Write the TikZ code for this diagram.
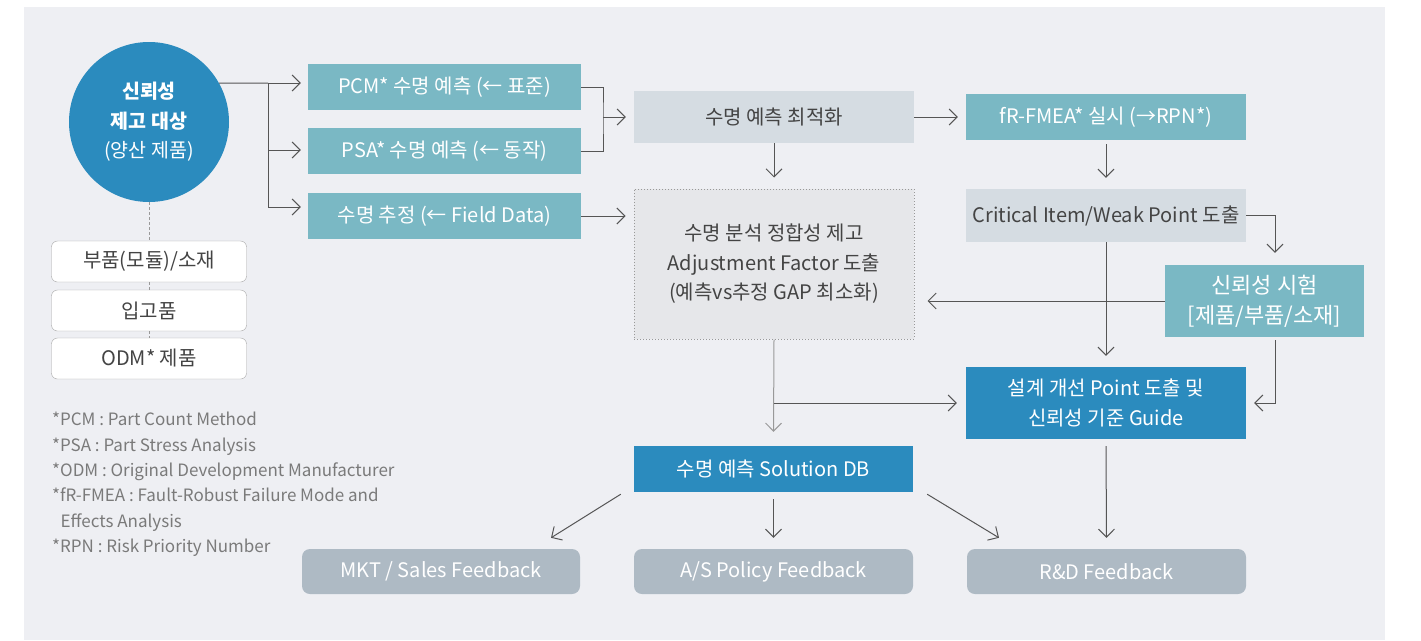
\documentclass[tikz,border=0pt]{standalone}
\usepackage{fontspec}
\setmainfont{Noto Sans CJK KR}
\usetikzlibrary{arrows.meta}
\definecolor{panelc}{HTML}{EEEFF3}
\definecolor{deepc}{HTML}{2B8BBE}
\definecolor{tealc}{HTML}{7AB8C4}
\definecolor{palec}{HTML}{D5DCE2}
\definecolor{dotc}{HTML}{E6E7EA}
\definecolor{fbc}{HTML}{AEBAC4}
\definecolor{linec}{HTML}{555555}
\definecolor{textc}{HTML}{444444}
\definecolor{notec}{HTML}{7A7A7A}

\begin{document}
\begin{tikzpicture}[x=1pt,y=-1pt,
    box/.style={rectangle,inner sep=0pt,align=center,font=\fontsize{20}{29.5}\selectfont},
    tealbox/.style={box,fill=tealc,text=white},
    palebox/.style={box,fill=palec,text=textc},
    deepbox/.style={box,fill=deepc,text=white,font=\fontsize{20}{30}\selectfont},
    fbbox/.style={box,fill=fbc,text=white,rounded corners=8pt,font=\fontsize{20}{24}\selectfont},
    whitebox/.style={box,fill=white,draw=gray!70,rounded corners=6pt,text=textc,
        font=\fontsize{20}{24}\selectfont,minimum width=195pt,minimum height=41pt},
    arr/.style={draw=linec,line width=1pt,-{Straight Barb[length=8pt,width=16pt]}},
    link/.style={draw=linec,line width=1pt},
    dots/.style={draw=gray!80,densely dashed,line width=0.8pt}]
\useasboundingbox (0,0) rectangle (1421,640);
\fill[panelc] (24,7) rectangle (1385,640);

\node [circle,fill=deepc,text=white,minimum size=160pt,inner sep=0pt,align=center,
    font=\fontsize{19.5}{29.5}\selectfont] (target) at (149,122)
    {\textbf{신뢰성}\\\textbf{제고 대상}\\(양산 제품)};
\node [whitebox] (parts) at (149,261.5) {부품(모듈)/소재};
\node [whitebox] (incoming) at (149,310.5) {입고품};
\node [whitebox] (odm) at (149,358.5) {ODM* 제품};
\draw [dots] (target.south) -- (parts.north);
\draw [dots] (parts.south) -- (incoming.north);
\draw [dots] (incoming.south) -- (odm.north);

\node [tealbox,minimum width=273pt,minimum height=46pt] (pcm) at (444.5,87) {PCM* 수명 예측 (← 표준)};
\node [tealbox,minimum width=273pt,minimum height=46pt] (psa) at (444.5,151) {PSA* 수명 예측 (← 동작)};
\node [tealbox,minimum width=273pt,minimum height=46pt] (field) at (444.5,216) {수명 추정 (← Field Data)};

\node [palebox,minimum width=280pt,minimum height=52pt] (opt) at (774,117) {수명 예측 최적화};
\node [box,fill=dotc,text=textc,draw=gray!80,dotted,line width=1pt,
    minimum width=280pt,minimum height=150pt] (adjust) at (774,264)
    {수명 분석 정합성 제고\\Adjustment Factor 도출\\(예측vs추정 GAP 최소화)};

\node [tealbox,minimum width=280pt,minimum height=46pt] (fmea) at (1106,117) {fR-FMEA* 실시 (→RPN*)};
\node [palebox,minimum width=280pt,minimum height=53pt] (critical) at (1106,215.5) {Critical Item/Weak Point 도출};
\node [tealbox,minimum width=199pt,minimum height=72pt,font=\fontsize{22}{30}\selectfont] (reltest) at (1264.5,301)
    {신뢰성 시험\\{[}제품/부품/소재{]}};
\node [deepbox,minimum width=280pt,minimum height=72pt] (design) at (1106,403)
    {설계 개선 Point 도출 및\\신뢰성 기준 Guide};

\node [deepbox,minimum width=279pt,minimum height=46pt] (soldb) at (773.5,469) {수명 예측 Solution DB};
\node [fbbox,minimum width=278pt,minimum height=45pt] (mkt) at (441,571.5) {MKT / Sales Feedback};
\node [fbbox,minimum width=279pt,minimum height=45pt] (asp) at (773.5,571.5) {A/S Policy Feedback};
\node [fbbox,minimum width=279pt,minimum height=45pt] (rnd) at (1106.5,571.5) {R\&D Feedback};

\node [anchor=north west,align=left,inner sep=0pt,text=notec,font=\fontsize{17}{25.4}\selectfont] (notes) at (52,412)
    {*PCM : Part Count Method\\
     *PSA : Part Stress Analysis\\
     *ODM : Original Development Manufacturer\\
     *fR-FMEA : Fault-Robust Failure Mode and\\
     \hspace{0.5em}Effects Analysis\\
     *RPN : Risk Priority Number};

\coordinate (trunk) at (268,83);
\draw [link] (target.29) -- (trunk);
\draw [arr] (trunk) -- ([xshift=-7pt,yshift=4pt]pcm.west);
\draw [arr] (trunk) |- ([xshift=-7pt,yshift=1pt]psa.west);
\draw [arr] (trunk) |- ([xshift=-7pt,yshift=9pt]field.west);

\coordinate (merge) at (603,117);
\draw [link] (pcm.east) -| (merge) |- (psa.east);
\draw [arr] (merge) -- ([xshift=-8pt]opt.west);
\draw [arr] (field.east) -- ([xshift=-8pt]adjust.west |- field.east);
\draw [arr] (opt.south) -- ([yshift=11pt]adjust.north);
\draw [arr] (opt.east) -- ([xshift=-8pt]fmea.west);
\draw [arr] ([yshift=-4pt]fmea.south) -- ([yshift=11pt]critical.north);
\draw [arr] (critical.east) -| ([xshift=10.5pt,yshift=12pt]reltest.north);
\draw [arr] (reltest.west) -- ([xshift=13pt]adjust.east |- reltest.west);
\draw [arr] (critical.south) -- ([yshift=11pt]design.north);
\draw [arr] ([xshift=10.5pt,yshift=-3pt]reltest.south) |- ([xshift=8pt]design.east);

\coordinate (branch) at (adjust.south |- design.west);
\draw [arr,draw=gray!80] (adjust.south) -- ([yshift=14pt]soldb.north);
\draw [arr] (branch) -- ([xshift=-9pt]design.west);

\draw [arr] ([xshift=-13pt,yshift=-2pt]soldb.south west) -- ([xshift=110pt,yshift=11pt]mkt.north);
\draw [arr] ([yshift=-7pt]soldb.south) -- ([yshift=11pt]asp.north);
\draw [arr] ([xshift=14pt,yshift=-2pt]soldb.south east) -- ([xshift=-107.5pt,yshift=11pt]rnd.north);
\draw [arr] ([yshift=-7pt]design.south) -- ([yshift=11pt]rnd.north);
\end{tikzpicture}
\end{document}
